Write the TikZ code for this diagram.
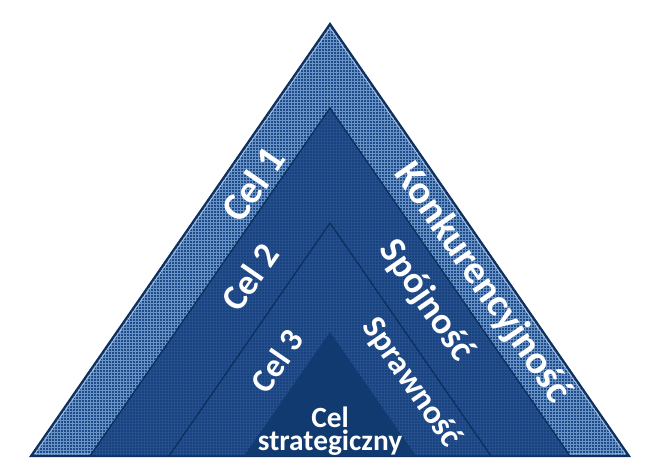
\documentclass[tikz,border=0pt]{standalone}
\usepackage{fontspec}
\setmainfont{Carlito}
\definecolor{outerbase}{HTML}{1E4C8A}
\definecolor{outergrid}{HTML}{6A93C6}
\definecolor{midbase}{HTML}{164280}
\definecolor{midgrid}{HTML}{264F8C}
\definecolor{corebase}{HTML}{113A70}
\definecolor{edgedark}{HTML}{0D305F}
\definecolor{edgelight}{HTML}{B5C8E4}
\tikzset{
  lbl/.style={text=white, font=\bfseries, inner sep=0pt},
  tripath/.style={line join=miter}
}
\begin{document}
\begin{tikzpicture}[x=0.75pt,y=-0.75pt]
\useasboundingbox (0,0) rectangle (652,470);
\coordinate (A1) at (330,24);  \coordinate (L1) at (31,456);  \coordinate (R1) at (629,456);
\coordinate (A2) at (330,108); \coordinate (L2) at (90,456);  \coordinate (R2) at (570,456);
\coordinate (A3) at (330,223); \coordinate (L3) at (169,456); \coordinate (R3) at (491,456);
\coordinate (A4) at (330,332); \coordinate (L4) at (244,456); \coordinate (R4) at (416,456);
% outer
\begin{scope}
\clip (A1)--(L1)--(R1)--cycle;
\fill[outerbase] (0,0) rectangle (652,470);
\draw[outergrid, line width=0.42pt, step=2.25pt] (0,0) grid (652,470);
\end{scope}
\draw[edgedark, line width=1.6pt, tripath] (A1)--(L1)--(R1)--cycle;
\draw[edgelight, line width=0.5pt, tripath] (330,27.8)--(34.9,454)--(625.1,454)--cycle;
% second
\begin{scope}
\clip (A2)--(L2)--(R2)--cycle;
\fill[midbase] (0,0) rectangle (652,470);
\draw[midgrid, line width=0.4pt, step=2.25pt] (0,0) grid (652,470);
\end{scope}
\draw[edgedark, line width=1pt, tripath] (A2)--(L2)--(R2)--cycle;
% third
\begin{scope}
\clip (A3)--(L3)--(R3)--cycle;
\fill[midbase] (0,0) rectangle (652,470);
\draw[midgrid, line width=0.4pt, step=2.25pt] (0,0) grid (652,470);
\end{scope}
\draw[edgedark, line width=1pt, tripath] (A3)--(L3)--(R3)--cycle;
% core
\fill[corebase] (A4)--(L4)--(R4)--cycle;
% labels
\node[lbl, rotate=55.4, font=\bfseries\fontsize{30}{32}\selectfont] (cel1) at (253,184) {Cel 1};
\node[lbl, rotate=55.4, font=\bfseries\fontsize{27}{30}\selectfont] (cel2) at (250,277) {Cel 2};
\node[lbl, rotate=55.4, font=\bfseries\fontsize{25}{28}\selectfont] (cel3) at (277,361) {Cel 3};
\node[lbl, rotate=-55.4, font=\bfseries\fontsize{30}{32}\selectfont] (konk) at (482,283) {Konkurencyjność};
\node[lbl, rotate=-55.4, font=\bfseries\fontsize{28}{30}\selectfont] (spoj) at (426,301) {Spójność};
\node[lbl, rotate=-55.4, font=\bfseries\fontsize{25}{28}\selectfont] (spraw) at (411,383) {Sprawność};
\node[lbl, align=center, font=\bfseries\fontsize{22}{17.5}\selectfont] (core) at (330,431) {Cel\\strategiczny};
\end{tikzpicture}
\end{document}
